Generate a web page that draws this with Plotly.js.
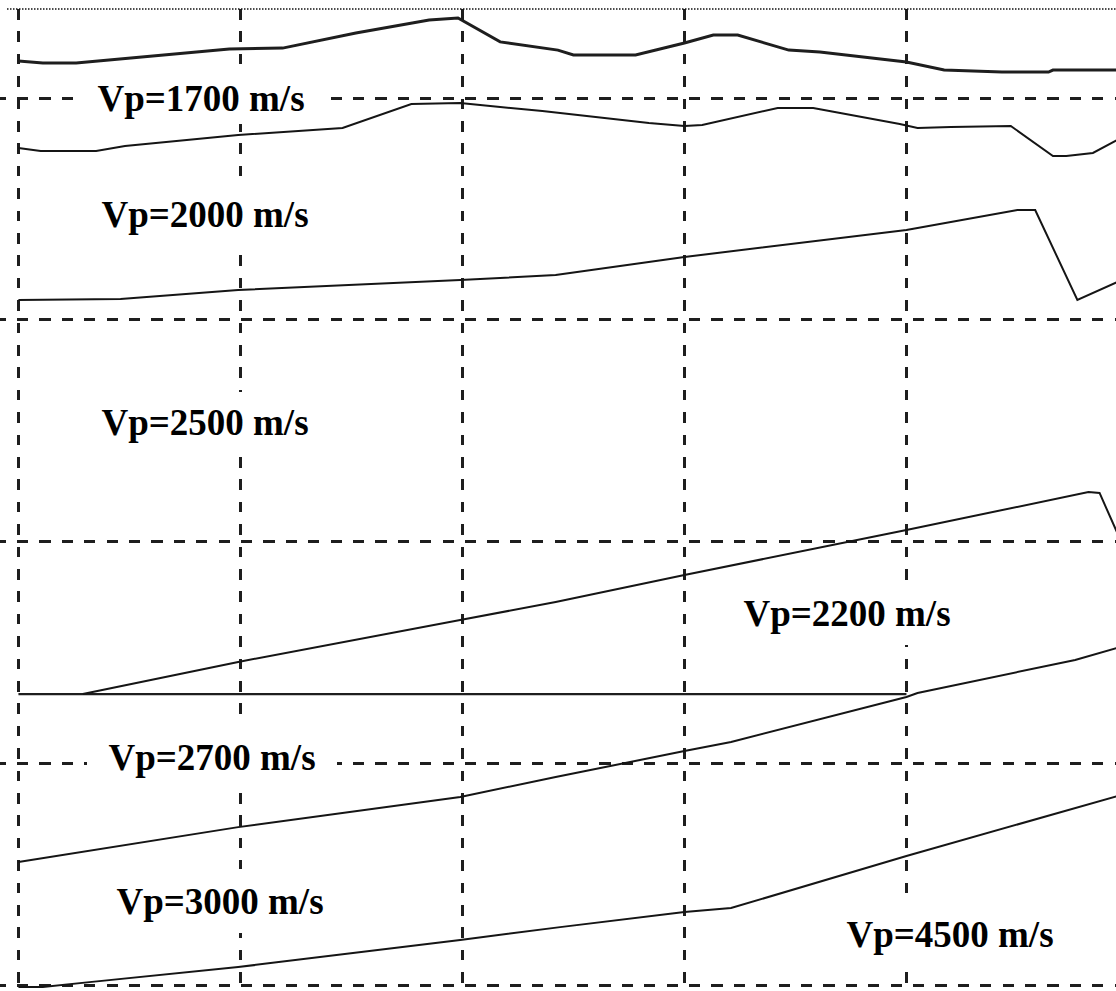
<!DOCTYPE html>
<html>
<head>
<meta charset="utf-8">
<script src="https://cdn.plot.ly/plotly-3.0.1.min.js"></script>
<style>
html,body{margin:0;padding:0;background:#ffffff;}
#chart{width:1116px;height:991px;}
</style>
</head>
<body>
<div id="chart"></div>
<script>
// Interface (layer boundary) geometry: horizontal distance (m) and depth (m)
const interface1X = [0,110,260,460,950,1190,1520,1850,1980,2170,2430,2500,2780,3000,3130,3240,3470,3610,4000,4170,4430,4640,4660,4950];
const interface1Y = [833,842,842,824,779,775,707,648,639,747,784,806,806,752,716,716,784,793,838,874,883,883,874,874];

const interface2X = [0,100,350,480,990,1460,1770,1990,2170,2360,2600,2840,3000,3080,3420,3580,3970,4050,4200,4470,4660,4720,4840,4950];
const interface2Y = [1225,1239,1239,1216,1167,1135,1027,1023,1041,1059,1086,1113,1126,1122,1045,1045,1117,1135,1131,1126,1262,1262,1248,1189];

const interface3X = [0,460,990,1990,2420,3000,4000,4500,4580,4770,4950];
const interface3Y = [1911,1906,1866,1821,1798,1717,1595,1505,1505,1911,1830];

const interface4X = [290,990,1990,2420,3000,3710,4000,4820,4870,4950];
const interface4Y = [3688,3543,3354,3273,3151,3007,2948,2777,2781,2962];

const flatInterfaceX = [0,4000];
const flatInterfaceY = [3688,3688];

const interface5X = [0,990,1990,2420,3000,3210,4000,4050,4760,4950];
const interface5Y = [4445,4288,4152,4062,3945,3904,3701,3683,3534,3480];

const interface6X = [0,110,320,990,1990,2440,3000,3210,4000,4950];
const interface6Y = [5009,5009,4987,4919,4797,4739,4671,4653,4418,4148];

// Layer velocity labels
const labelText = ["Vp=1700 m/s","Vp=2000 m/s","Vp=2500 m/s","Vp=2200 m/s","Vp=2700 m/s","Vp=3000 m/s","Vp=4500 m/s"];
const labelX = [822,840,840,3732,874,910,4198];
const labelY = [1000,1525,2460,3322,3972,4620,4770];

const lineColor = '#151515';
function boundary(x, y, w, c){
  return {x:x, y:y, type:'scatter', mode:'lines', hoverinfo:'skip', showlegend:false,
          line:{color:c||lineColor, width:w||2, shape:'linear'}};
}

const traces = [
  boundary(interface1X, interface1Y, 3, '#1e1e1e'),
  boundary(interface2X, interface2Y, 2),
  boundary(interface3X, interface3Y, 2),
  boundary(flatInterfaceX, flatInterfaceY, 2.2, '#1e1e1e'),
  boundary(interface4X, interface4Y, 2),
  boundary(interface5X, interface5Y, 2),
  boundary(interface6X, interface6Y, 2)
];

const boxW = [250,250,250,250,250,250,250];
const boxH = [52,64,60,64,68,64,68];

const annotations = labelText.map((t,i)=>({
  x: labelX[i], y: labelY[i], xref:'x', yref:'y',
  text: '<b>'+t+'</b>', showarrow:false,
  xanchor:'center', yanchor:'middle',
  width: boxW[i], height: boxH[i],
  bgcolor:'#ffffff', borderpad:0, borderwidth:0,
  font:{family:'Liberation Serif, "Times New Roman", serif', size:37, color:'#000000'}
}));

const layout = {
  width:1116, height:991,
  margin:{l:0, r:0, t:9, b:3, pad:0},
  paper_bgcolor:'#ffffff', plot_bgcolor:'#ffffff',
  showlegend:false,
  xaxis:{
    range:[-83, 4944], tick0:0, dtick:1000,
    showgrid:true, gridcolor:'#1e1e1e', gridwidth:3, griddash:'10.5px,11.9px',
    zeroline:false, showline:false, showticklabels:false, ticks:'', fixedrange:true
  },
  yaxis:{
    range:[5013.5, 598.6], tick0:0, dtick:1000,
    showgrid:true, gridcolor:'#1e1e1e', gridwidth:3, griddash:'5.8px,11.1px,5.5px,0px',
    zeroline:false, showline:false, showticklabels:false, ticks:'', fixedrange:true
  },
  shapes:[
    {type:'line', xref:'paper', yref:'paper', x0:7/1116, x1:1, y0:1, y1:1,
     line:{color:'#111111', width:1.5, dash:'1.5px,1.5px'}}
  ],
  annotations: annotations
};

Plotly.newPlot('chart', traces, layout, {staticPlot:true, displayModeBar:false});
</script>
</body>
</html>
